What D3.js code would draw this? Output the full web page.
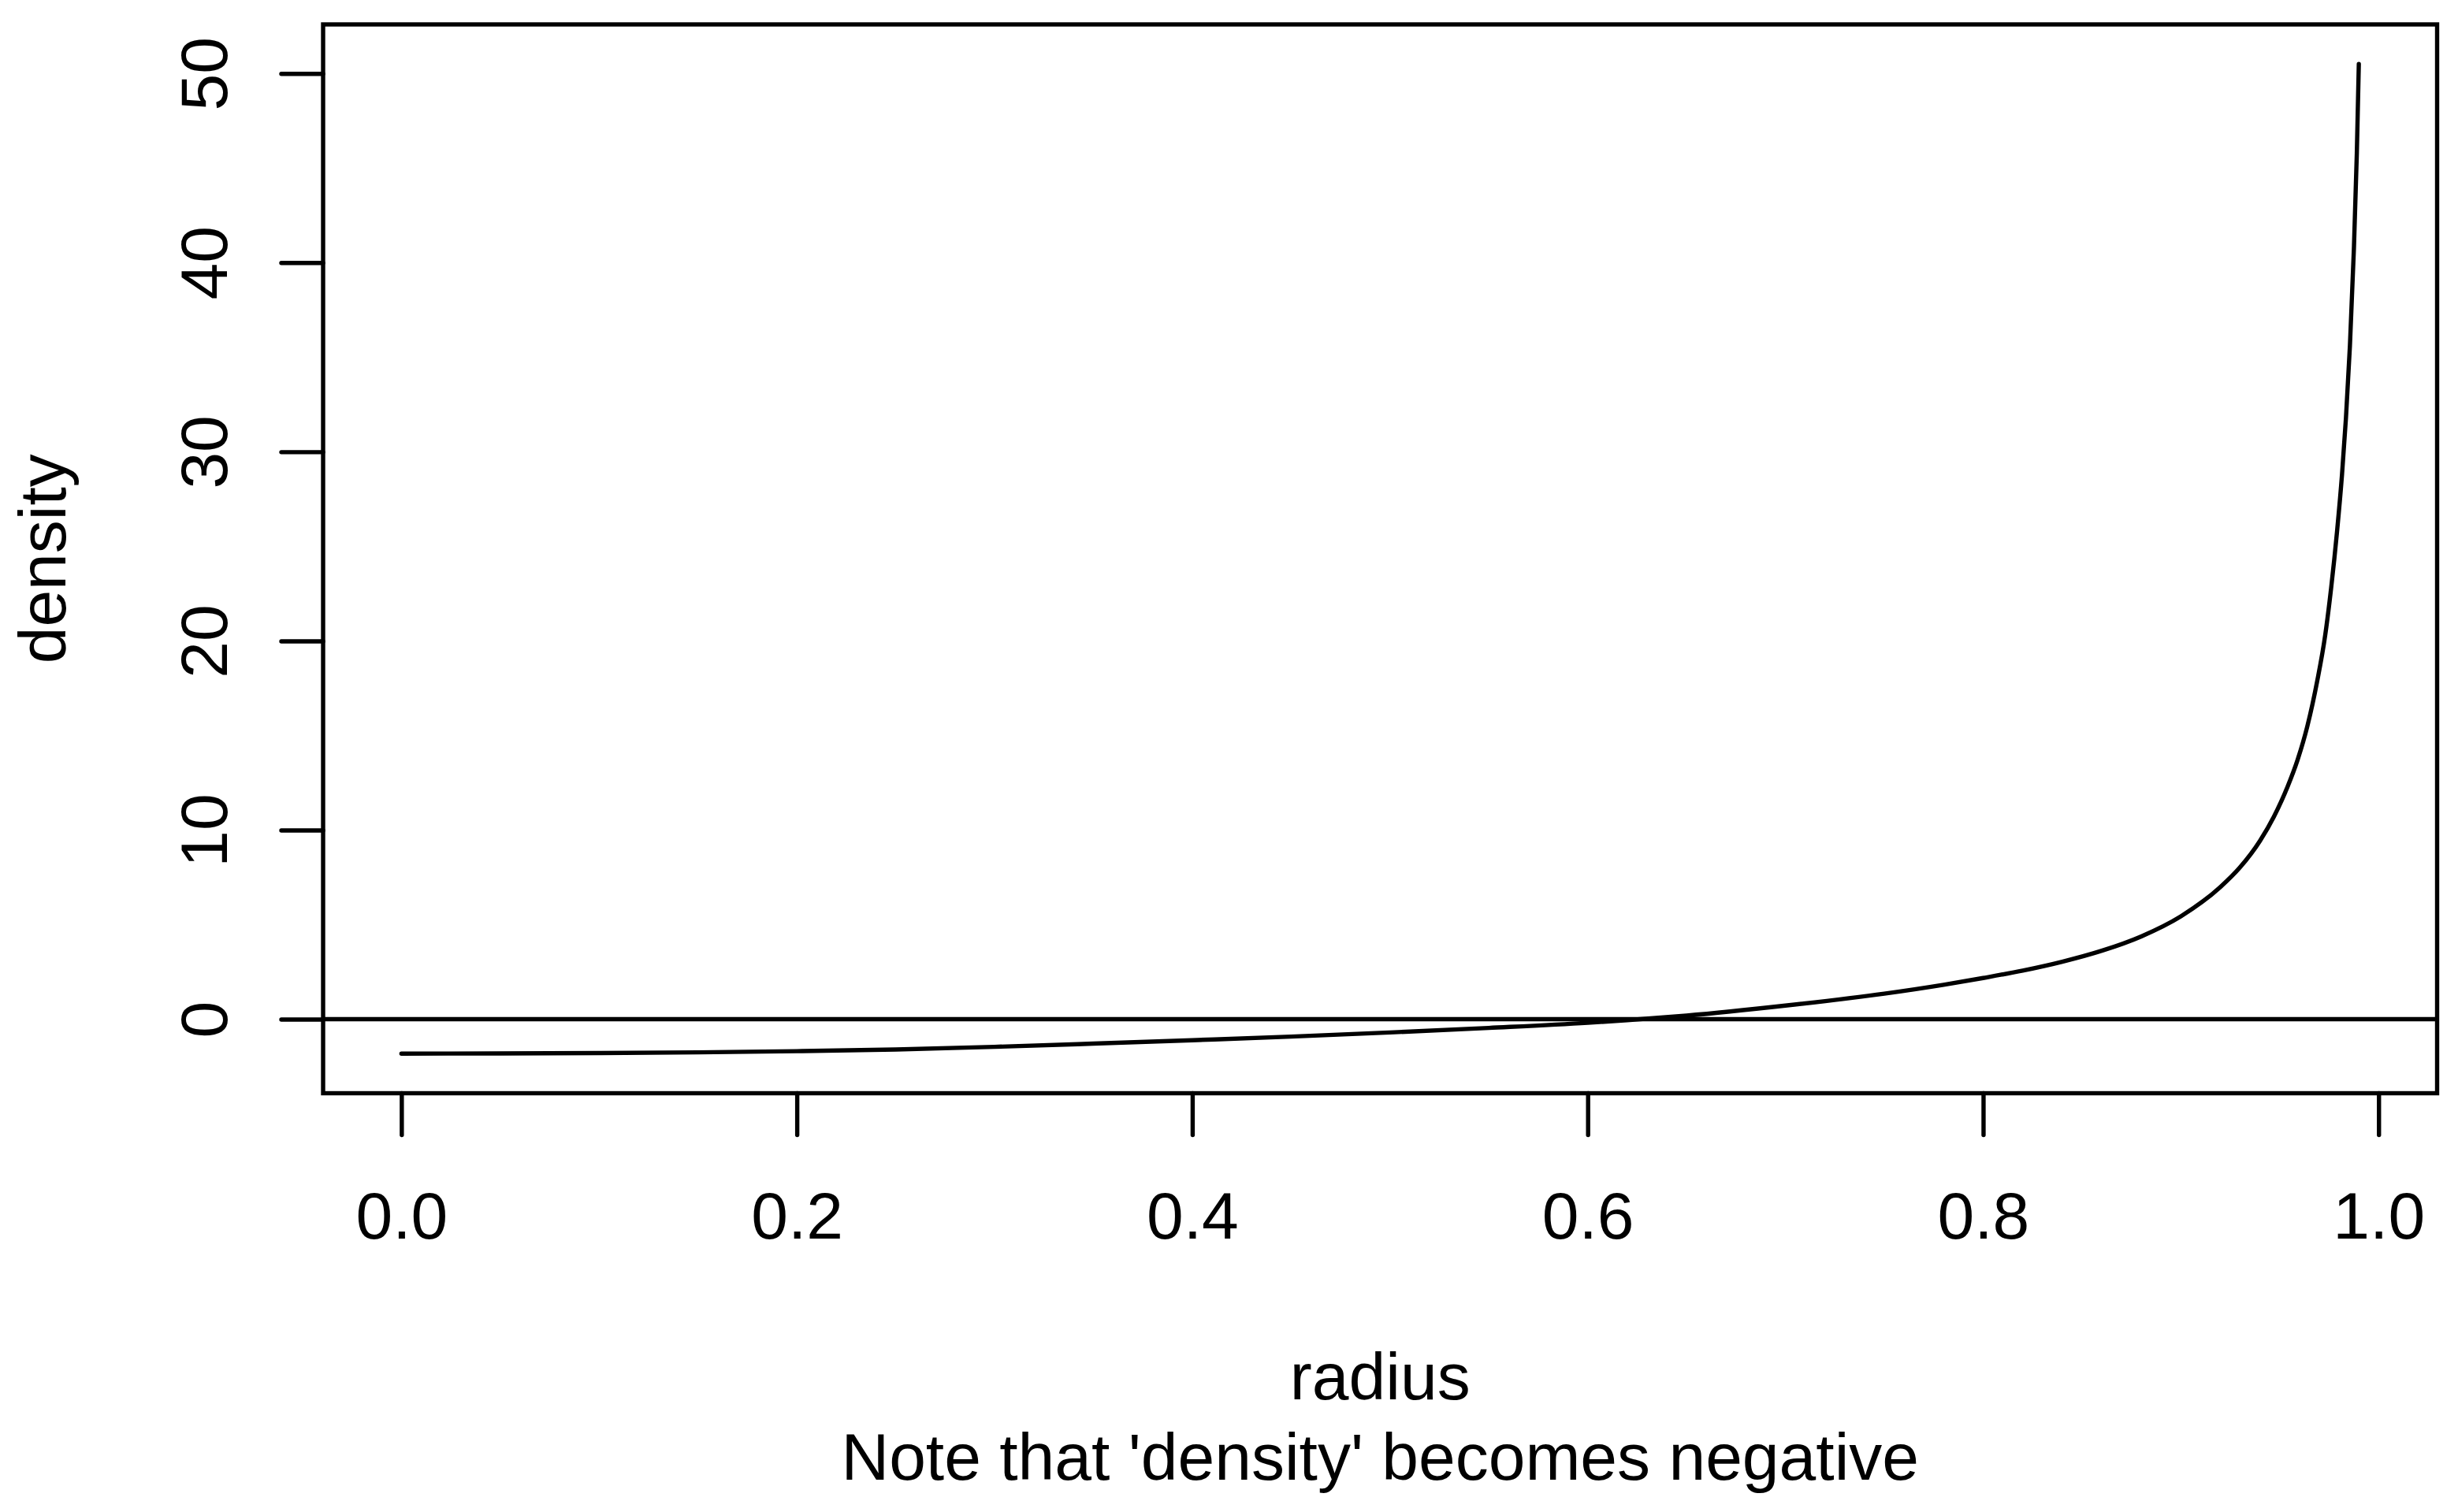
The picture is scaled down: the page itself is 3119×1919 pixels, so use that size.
<!DOCTYPE html>
<html>
<head>
<meta charset="utf-8">
<script src="https://cdn.jsdelivr.net/npm/d3@7"></script>
<style>
  html, body { margin: 0; padding: 0; background: #ffffff; }
  svg { display: block; }
  text { font-family: "Liberation Sans", Arial, Helvetica, sans-serif; fill: #000; }
</style>
</head>
<body>
<script>
// ---- data ----
const radius = [0, 0.05, 0.1, 0.15, 0.2, 0.25, 0.3, 0.35, 0.4, 0.45, 0.5, 0.55, 0.6, 0.62, 0.65,
  0.7, 0.75, 0.78, 0.8, 0.82, 0.84, 0.86, 0.88, 0.9, 0.92, 0.93, 0.94, 0.947, 0.954, 0.959,
  0.964, 0.969, 0.973, 0.976, 0.979, 0.9815, 0.9835, 0.9855, 0.9875, 0.989, 0.99];
const density = [-1.82, -1.81, -1.79, -1.75, -1.69, -1.60, -1.46, -1.29, -1.11, -0.92, -0.70, -0.46, -0.19, -0.05, 0.19,
  0.72, 1.35, 1.82, 2.18, 2.57, 3.04, 3.62, 4.38, 5.44, 6.99, 8.04, 9.43, 10.7, 12.3, 13.7,
  15.5, 17.9, 20.3, 22.8, 25.8, 28.8, 31.8, 35.6, 40.7, 45.8, 50.5];
const xTicks = [0, 0.2, 0.4, 0.6, 0.8, 1.0];
const yTicks = [0, 10, 20, 30, 40, 50];
const xLabel = "radius";
const yLabel = "density";
const subTitle = "Note that 'density' becomes negative";
const refLine = [0];

// ---- layout ----
const W = 3119, H = 1919;
const plot = { left: 410, right: 3092.5, top: 31, bottom: 1387.5 };
const LW = 5.4;
const FS = 84;

const svg = d3.select("body").append("svg").attr("width", W).attr("height", H);

function pad(ext) { const d = (ext[1] - ext[0]) * 0.04; return [ext[0] - d, ext[1] + d]; }
const x = d3.scaleLinear().domain(pad(d3.extent(radius))).range([plot.left, plot.right]);
const y = d3.scaleLinear().domain(pad(d3.extent(density))).range([plot.bottom, plot.top]);

const pts = radius.map((r, i) => [r, density[i]]);

// clip
svg.append("clipPath").attr("id", "clip").append("rect")
  .attr("x", plot.left).attr("y", plot.top)
  .attr("width", plot.right - plot.left).attr("height", plot.bottom - plot.top);

// horizontal reference line
svg.append("g").attr("clip-path", "url(#clip)").selectAll("line").data(refLine).enter().append("line")
  .attr("x1", plot.left).attr("x2", plot.right)
  .attr("y1", d => y(d)).attr("y2", d => y(d))
  .attr("stroke", "#000").attr("stroke-width", LW);

// curve
svg.append("path").datum(pts)
  .attr("d", d3.line().x(d => x(d[0])).y(d => y(d[1])).curve(d3.curveMonotoneX))
  .attr("fill", "none").attr("stroke", "#000").attr("stroke-width", LW)
  .attr("stroke-linecap", "round").attr("stroke-linejoin", "round");

// x axis
const gx = svg.append("g").attr("transform", `translate(0,${plot.bottom})`)
  .call(d3.axisBottom(x).tickValues(xTicks).tickFormat(d3.format(".1f")).tickSize(53).tickSizeOuter(0));
gx.select(".domain").remove();
gx.selectAll(".tick line").attr("stroke", "#000").attr("stroke-width", LW).attr("stroke-linecap", "round");
gx.selectAll(".tick text").attr("y", 1572 - plot.bottom).attr("dy", null)
  .attr("font-size", FS).attr("font-family", null).attr("fill", "#000");

// y axis
const gy = svg.append("g").attr("transform", `translate(${plot.left},0)`)
  .call(d3.axisLeft(y).tickValues(yTicks).tickFormat(d3.format("d")).tickSize(53).tickSizeOuter(0));
gy.select(".domain").remove();
gy.selectAll(".tick line").attr("stroke", "#000").attr("stroke-width", LW).attr("stroke-linecap", "round");
gy.selectAll(".tick text")
  .attr("x", null).attr("y", null).attr("dy", null)
  .attr("text-anchor", "middle")
  .attr("transform", `translate(${288 - plot.left},0) rotate(-90)`)
  .attr("font-size", FS).attr("font-family", null).attr("fill", "#000");

// box
svg.append("rect")
  .attr("x", plot.left).attr("y", plot.top)
  .attr("width", plot.right - plot.left).attr("height", plot.bottom - plot.top)
  .attr("fill", "none").attr("stroke", "#000").attr("stroke-width", LW);

// labels
const cx = (plot.left + plot.right) / 2;
svg.append("text").attr("x", cx).attr("y", 1776).attr("text-anchor", "middle")
  .attr("font-size", FS).text(xLabel);
svg.append("text").attr("x", cx).attr("y", 1878).attr("text-anchor", "middle")
  .attr("font-size", FS).text(subTitle);
svg.append("text").attr("text-anchor", "middle")
  .attr("transform", `translate(83,${(plot.top + plot.bottom) / 2}) rotate(-90)`)
  .attr("font-size", FS).text(yLabel);
</script>
</body>
</html>
